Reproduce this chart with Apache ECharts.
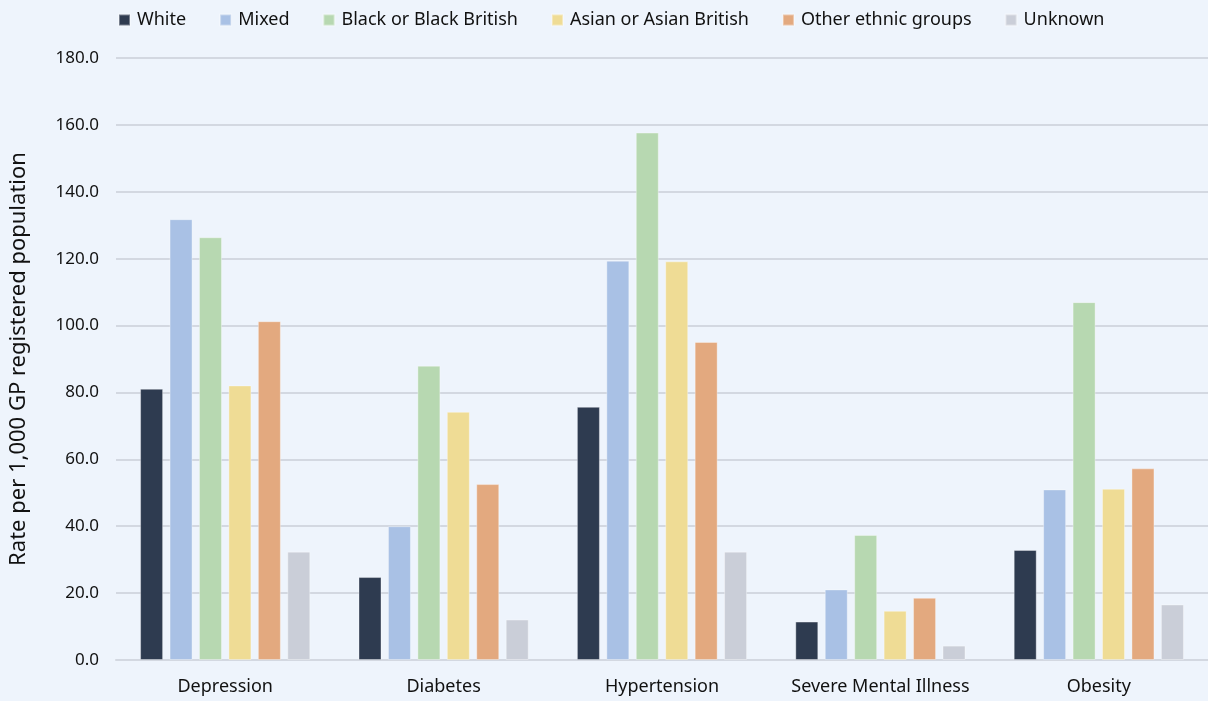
<!DOCTYPE html>
<html style="height: 100%">

<head>
  <meta charset="UTF-8" />
  <title>Rate per 1,000 GP registered population by ethnic group</title>
  <script src="https://cdn.jsdelivr.net/npm/echarts@6/dist/echarts.min.js"></script>
</head>

<body style="height: 100%; margin: 0; background: #EEF4FC">
  <div id="main" style="width: 1208px; height: 701px"></div>
  <script>
    const conditions = ['Depression', 'Diabetes', 'Hypertension', 'Severe Mental Illness', 'Obesity'];

    const white = [81.1, 24.8, 75.7, 11.5, 32.9];
    const mixed = [131.8, 40.0, 119.4, 21.1, 51.0];
    const black = [126.4, 88.0, 157.7, 37.4, 107.0];
    const asian = [82.1, 74.2, 119.2, 14.7, 51.2];
    const other = [101.3, 52.6, 95.1, 18.6, 57.3];
    const unknown = [32.4, 12.1, 32.4, 4.3, 16.6];

    const groups = [
      { name: 'White', data: white, color: '#2E3B50' },
      { name: 'Mixed', data: mixed, color: '#A9C1E5' },
      { name: 'Black or Black British', data: black, color: '#B7D8B1' },
      { name: 'Asian or Asian British', data: asian, color: '#EFDC95' },
      { name: 'Other ethnic groups', data: other, color: '#E3A97F' },
      { name: 'Unknown', data: unknown, color: '#CACED8' },
    ];

    const font = 'Noto Sans';
    const chart = echarts.init(document.getElementById('main'));

    chart.setOption({
      backgroundColor: '#EEF4FC',
      textStyle: { fontFamily: font },
      legend: {
        top: 6,
        left: 113,
        itemWidth: 11,
        itemHeight: 11,
        itemGap: 33,
        icon: 'rect',
        textStyle: { fontSize: 18, color: '#111', fontFamily: font, padding: [0, 0, 0, 2] },
      },
      grid: { left: 112, right: -4, top: 58, bottom: 41 },
      xAxis: {
        type: 'category',
        data: conditions,
        axisLine: { lineStyle: { color: '#D3D8E1', width: 2 } },
        axisTick: { show: false },
        axisLabel: { fontSize: 18, color: '#111', margin: 18, interval: 0 },
      },
      yAxis: {
        type: 'value',
        min: 0,
        max: 180,
        interval: 20,
        name: 'Rate per 1,000 GP registered population',
        nameLocation: 'middle',
        nameGap: 86,
        nameTextStyle: { fontSize: 22, color: '#111' },
        axisLabel: {
          fontSize: 17,
          color: '#111',
          margin: 17,
          formatter: (v) => v.toFixed(1),
        },
        splitLine: { lineStyle: { color: '#D3D8E1', width: 2 } },
      },
      series: groups.map((g) => ({
        name: g.name,
        type: 'bar',
        data: g.data,
        barWidth: 23,
        barGap: '28%',
        itemStyle: { color: g.color, borderColor: 'rgba(255,255,255,0.35)', borderWidth: 1 },
      })),
    });
  </script>
</body>

</html>
